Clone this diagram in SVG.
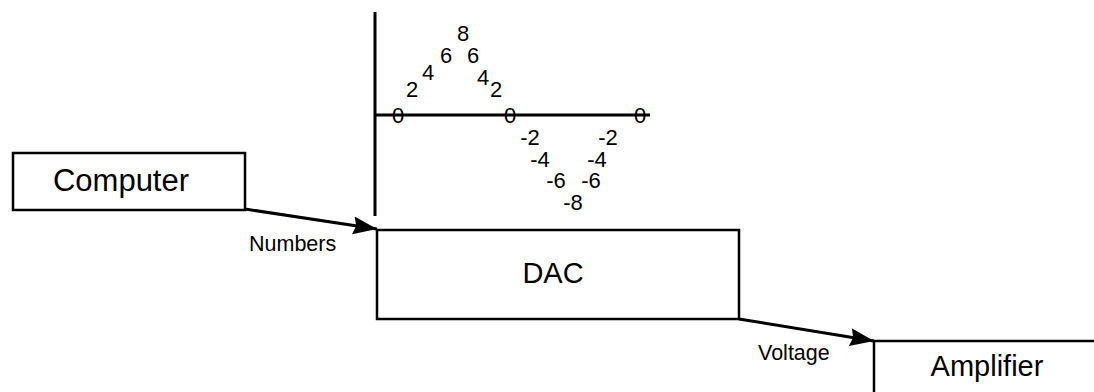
<svg xmlns="http://www.w3.org/2000/svg" width="1094" height="392" viewBox="0 0 1094 392">
<defs>
<style>
.box{fill:none;stroke:#000;stroke-width:2.5}
.edge{fill:none;stroke:#000;stroke-width:3}
.axis{fill:none;stroke:#000;stroke-width:3}
.big{font-family:"Liberation Sans",Arial,sans-serif;font-size:29px;fill:#000;text-anchor:middle}
.lbl{font-family:"Liberation Sans",Arial,sans-serif;font-size:21.5px;fill:#000}
.num{font-family:"Liberation Sans",Arial,sans-serif;font-size:22px;fill:#000;text-anchor:middle}
</style>
<marker id="arr" markerUnits="userSpaceOnUse" markerWidth="26" markerHeight="20" refX="24" refY="10" orient="auto">
<polygon points="0,1 24,10 0,19 3,10" fill="#000"/>
</marker>
</defs>
<rect width="1094" height="392" fill="#fff"/>
<g id="computer">
<rect class="box" x="13" y="153" width="232" height="57"/>
<text class="big" x="121" y="191" style="font-size:31px">Computer</text>
</g>
<g id="dac">
<rect class="box" x="377" y="230" width="362" height="89"/>
<text class="big" x="553" y="283">DAC</text>
</g>
<g id="amplifier">
<path class="box" d="M874,392 V341 H1094"/>
<text class="big" x="987" y="376">Amplifier</text>
</g>
<g id="graph">
<line class="axis" x1="375" y1="12" x2="375" y2="216"/>
<line class="axis" x1="375" y1="115" x2="650" y2="115"/>
<text class="num" x="398" y="123">0</text>
<text class="num" x="510" y="123">0</text>
<text class="num" x="640" y="123">0</text>
<text class="num" x="412" y="97">2</text>
<text class="num" x="428" y="80">4</text>
<text class="num" x="446" y="63">6</text>
<text class="num" x="463" y="41">8</text>
<text class="num" x="473" y="63">6</text>
<text class="num" x="483" y="85">4</text>
<text class="num" x="496" y="97">2</text>
<text class="num" x="530" y="145">-2</text>
<text class="num" x="540" y="167">-4</text>
<text class="num" x="556" y="188">-6</text>
<text class="num" x="573" y="210">-8</text>
<text class="num" x="591" y="188">-6</text>
<text class="num" x="597" y="167">-4</text>
<text class="num" x="608" y="145">-2</text>
</g>
<g id="connectors">
<line class="edge" x1="245" y1="209" x2="377" y2="229" marker-end="url(#arr)"/>
<text class="lbl" x="249" y="251">Numbers</text>
<line class="edge" x1="739" y1="319" x2="874" y2="341" marker-end="url(#arr)"/>
<text class="lbl" x="758" y="360">Voltage</text>
</g>
</svg>
